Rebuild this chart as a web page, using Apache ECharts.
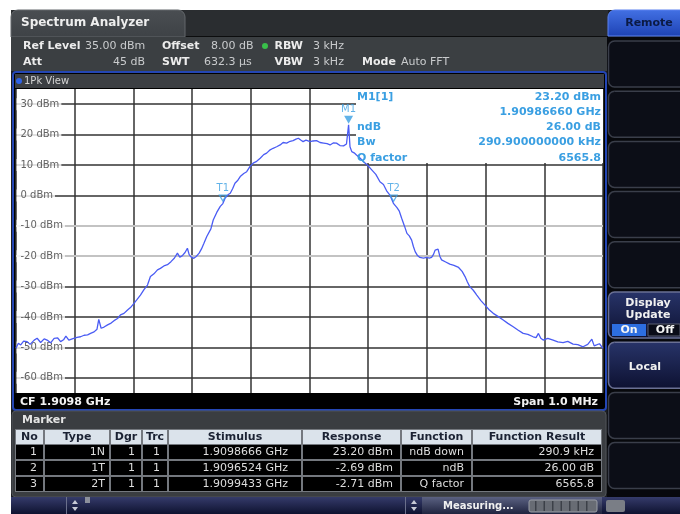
<!DOCTYPE html>
<html>
<head>
<meta charset="utf-8">
<script src="https://cdn.jsdelivr.net/npm/echarts@6/dist/echarts.min.js"></script>
<style>
  html, body { margin: 0; padding: 0; background: #fff; }
  #c { width: 680px; height: 514px; }
</style>
</head>
<body>
<div id="c"></div>
<script>
// Trace 1 (1Pk View): [offset from centre frequency in kHz, level in dBm]
const trace = [
  [-500,-50.3],[-496,-48.6],[-492,-49.2],[-487,-47.9],[-481,-48.1],[-476,-49.0],[-469,-47.6],[-464,-47.0],
  [-458,-48.4],[-452,-47.2],[-447,-47.6],[-441,-48.5],[-435,-47.0],[-429,-46.9],[-424,-48.1],[-419,-47.5],
  [-415,-46.3],[-410,-47.6],[-403,-47.1],[-396,-46.7],[-390,-46.5],[-384,-46.0],[-378,-45.9],[-373,-45.4],
  [-367,-44.9],[-362,-44.0],[-359,-40.8],[-355,-43.7],[-350,-43.3],[-344,-42.6],[-338,-42.0],[-333,-41.2],
  [-327,-40.5],[-322,-39.3],[-316,-38.8],[-310,-37.7],[-305,-36.9],[-299,-35.5],[-294,-34.3],[-288,-32.8],
  [-282,-31.0],[-276,-29.5],[-271,-26.7],[-265,-25.8],[-259,-24.5],[-254,-24.0],[-248,-23.2],[-242,-22.8],
  [-236,-21.8],[-230,-20.6],[-225,-19.0],[-221,-20.3],[-217,-19.9],[-212,-18.8],[-208,-17.4],[-205,-19.5],
  [-202,-20.2],[-197,-20.7],[-193,-20.1],[-188,-19.0],[-184,-17.6],[-180,-15.8],[-175,-13.5],[-168,-11.0],
  [-164,-8.1],[-158,-5.6],[-152,-3.6],[-147.6,-2.69],[-144,-1.0],[-139,0.2],[-135,0.7],[-131,2.2],
  [-127,4.0],[-122,5.0],[-118,6.2],[-112,7.2],[-107,7.8],[-101,9.6],[-96,10.6],[-90,11.2],
  [-84,12.2],[-78,13.4],[-73,13.9],[-67,15.0],[-62,15.5],[-56,16.0],[-50,16.6],[-45,17.4],
  [-39,17.2],[-33,17.8],[-28,18.0],[-23,18.5],[-19,18.8],[-15,18.2],[-11,17.7],[-6,18.2],
  [1,17.7],[6,17.9],[12,18.0],[18,17.4],[24,17.2],[30,17.0],[35,16.6],[41,17.3],
  [46,17.2],[52,16.4],[58,16.3],[63,16.9],[66.6,23.2],[69,16.0],[72,14.4],[76,14.0],
  [80,13.3],[86,12.3],[92,11.1],[99,9.9],[106,8.4],[113,6.9],[120,4.5],[126,3.6],
  [132,1.3],[137,0.1],[143.3,-2.71],[149,-4.0],[153,-5.2],[157,-7.5],[162,-10.2],[166,-12.5],
  [170,-13.3],[174,-14.7],[177,-16.8],[180,-18.5],[184,-19.8],[188,-20.4],[194,-20.6],[200,-20.4],
  [204,-20.6],[208,-20.4],[211,-19.5],[214,-18.0],[219,-17.7],[222,-20.0],[225,-21.2],[232,-21.9],
  [239,-22.6],[246,-23.0],[254,-23.7],[260,-25.0],[265,-26.7],[269,-28.5],[273,-30.0],[279,-31.2],
  [285,-32.8],[292,-34.6],[299,-36.1],[306,-37.6],[313,-38.8],[321,-39.8],[330,-41.0],[338,-42.1],
  [347,-43.2],[355,-44.3],[364,-45.4],[372,-45.7],[381,-46.5],[386,-46.8],[390,-45.4],[394,-47.0],
  [398,-47.6],[406,-47.0],[415,-47.6],[423,-48.2],[432,-48.4],[440,-48.0],[449,-48.9],[457,-49.1],
  [466,-49.8],[474,-49.0],[481,-47.3],[485,-49.5],[489,-49.2],[494,-48.8],[500,-50.3]
];

// Level grid (dBm) and the two lighter display lines
const levelTicks = [30, 20, 10, 0, -10, -20, -30, -40, -50, -60];
const lightLevels = [-10, -20];

// Markers: name, offset from CF (kHz), level (dBm)
const markerNames = ['M1', 'T1', 'T2'];
const markerFreq = [66.6, -147.6, 143.3];
const markerLevel = [23.20, -2.69, -2.71];

// Marker table
const tableHeader = ['No', 'Type', 'Dgr', 'Trc', 'Stimulus', 'Response', 'Function', 'Function Result'];
const colNo = ['1', '2', '3'];
const colType = ['1N', '1T', '2T'];
const colDgr = ['1', '1', '1'];
const colTrc = ['1', '1', '1'];
const colStimulus = ['1.9098666 GHz', '1.9096524 GHz', '1.9099433 GHz'];
const colResponse = ['23.20 dBm', '-2.69 dBm', '-2.71 dBm'];
const colFunction = ['ndB down', 'ndB', 'Q factor'];
const colResult = ['290.9 kHz', '26.00 dB', '6565.8'];

// Marker info readout
const infoLeft = ['M1[1]', '', 'ndB', 'Bw', 'Q factor'];
const infoRight = ['23.20 dBm', '1.90986660 GHz', '26.00 dB', '290.900000000 kHz', '6565.8'];

const F = '"DejaVu Sans", "Liberation Sans", sans-serif';
const els = [];
function grad(c1, c2) {
  return new echarts.graphic.LinearGradient(0, 0, 0, 1, [{ offset: 0, color: c1 }, { offset: 1, color: c2 }]);
}
function rect(x, y, w, h, style, z, r) {
  els.push({ type: 'rect', silent: true, z: z == null ? -10 : z, shape: { x, y, width: w, height: h, r: r || 0 }, style });
}
function text(x, y, s, fill, size, bold, align, z) {
  els.push({
    type: 'text', silent: true, z: z == null ? -7 : z,
    style: {
      text: s, x, y, fill, font: (bold ? 'bold ' : '') + size + 'px ' + F,
      textAlign: align || 'left', textVerticalAlign: 'middle', align: align || 'left', verticalAlign: 'middle'
    }
  });
}
function poly(points, fill, z) {
  els.push({ type: 'polygon', silent: true, z: z == null ? -7 : z, shape: { points }, style: { fill } });
}

// Instrument frame
rect(11, 10, 669, 504, { fill: '#1c1e21' }, -12);
rect(11, 10, 597, 27, { fill: '#2a2d30' }, -11);
rect(11, 36, 597, 1, { fill: '#0c0d0e' }, -11);
rect(11, 10, 174, 27, { fill: grad('#4a4e52', '#3e4246'), stroke: '#63676b', lineWidth: 1 }, -10, [7, 7, 0, 0]);
text(21, 23, 'Spectrum Analyzer', '#eeeeee', 12, true);
rect(11, 37, 597, 34, { fill: '#3b3f42' }, -10);

// Setting readout
const lab = '#ececec', val = '#c9cbcd';
text(23, 46, 'Ref Level', lab, 11, true);
text(85, 46, '35.00 dBm', val, 11);
text(162, 46, 'Offset', lab, 11, true);
text(211, 46, '8.00 dB', val, 11);
els.push({ type: 'circle', silent: true, z: -7, shape: { cx: 265, cy: 46, r: 3 }, style: { fill: '#39c04a' } });
text(303, 46, 'RBW', lab, 11, true, 'right');
text(313, 46, '3 kHz', val, 11);
text(23, 62, 'Att', lab, 11, true);
text(145, 62, '45 dB', val, 11, false, 'right');
text(162, 62, 'SWT', lab, 11, true);
text(204, 62, '632.3 µs', val, 11);
text(303, 62, 'VBW', lab, 11, true, 'right');
text(313, 62, '3 kHz', val, 11);
text(362, 62, 'Mode', lab, 11, true);
text(401, 62, 'Auto FFT', val, 11);

// Diagram window
rect(13, 72, 593, 338, { fill: '#000', stroke: '#2446b4', lineWidth: 2 }, -10, 3);
rect(15, 74, 589, 14, { fill: '#3c3f43' }, -9);
els.push({ type: 'circle', silent: true, z: -7, shape: { cx: 19, cy: 81, r: 3 }, style: { fill: '#2f62e6' } });
text(24, 81, '1Pk View', '#d4d4d4', 10);
rect(16, 89, 587, 304, { fill: '#ffffff' }, -6);
text(20, 402, 'CF 1.9098 GHz', '#f2f2f2', 11, true);
text(598, 402, 'Span 1.0 MHz', '#f2f2f2', 11, true, 'right');

// Marker readout box (drawn over the grid, under the trace)
rect(356, 89, 247, 74, { fill: '#ffffff' }, 4);
const infoColor = '#3a9fe2';
for (let i = 0; i < infoRight.length; i++) {
  const y = 97 + i * 15.2;
  if (infoLeft[i]) text(357, y, infoLeft[i], infoColor, 11, true, 'left', 6);
  text(601, y, infoRight[i], infoColor, 11, true, 'right', 6);
}

// Marker table panel
rect(12, 411, 594, 86, { fill: '#3a3d41', stroke: '#4f5358', lineWidth: 1 }, -10, 4);
text(22, 420, 'Marker', '#e4e4e4', 11, true);
const colEdges = [15, 44, 110, 142, 168, 302, 401, 472, 602];
const colRight = [37, 105, 135, 160, 288, 393, 464, 594];
rect(15, 429, 587, 63, { fill: '#74787e' }, -9);
for (let c = 0; c < 8; c++) {
  const x0 = colEdges[c] + 1, w = colEdges[c + 1] - colEdges[c] - 2;
  rect(x0, 430, w, 14, { fill: '#dbe3eb' }, -8);
  text((colEdges[c] + colEdges[c + 1]) / 2, 437, tableHeader[c], '#1b2233', 11, true, 'center');
  for (let r = 0; r < 3; r++) rect(x0, 445 + r * 16, w, 14, { fill: '#000' }, -8);
}
const cols = [colNo, colType, colDgr, colTrc, colStimulus, colResponse, colFunction, colResult];
for (let r = 0; r < 3; r++) {
  for (let c = 0; c < 8; c++) text(colRight[c], 452 + r * 16, cols[c][r], '#dedede', 11, false, 'right');
}

// Status bar
rect(11, 497, 669, 17, { fill: grad('#353b6a', '#0e1230') }, -10);
rect(422, 497, 180, 17, { fill: grad('#5b6182', '#1f243f') }, -9);
rect(66, 497, 1, 17, { fill: '#6a6f8c' }, -8);
rect(405, 497, 1, 17, { fill: '#6a6f8c' }, -8);
rect(85, 497, 5, 6, { fill: '#8c909c' }, -8);
poly([[72, 504], [78, 504], [75, 500]], '#c8cad6');
poly([[72, 507], [78, 507], [75, 511]], '#c8cad6');
poly([[411, 504], [417, 504], [414, 500]], '#c8cad6');
poly([[411, 507], [417, 507], [414, 511]], '#c8cad6');
text(443, 506, 'Measuring...', '#f0f0f0', 10, true);
rect(529, 500, 68, 12, { fill: '#686c74', stroke: '#9a9ea6', lineWidth: 1 }, -8, 2);
for (let i = 0; i < 7; i++) rect(535 + i * 8.5, 501, 1.5, 10, { fill: '#3c4048' }, -7);
rect(606, 500, 19, 12, { fill: '#7a7e86' }, -8, 2);

// Softkey column
rect(607, 37, 73, 460, { fill: '#07080c' }, -10);
rect(608, 10, 80, 26, { fill: grad('#4371e4', '#1d42b4'), stroke: '#5a80ee', lineWidth: 1 }, -9, [7, 0, 0, 0]);
text(649, 23, 'Remote', '#0b1a44', 11, true, 'center');
for (let i = 0; i < 9; i++) {
  const y = 41 + i * 50.2;
  const active = (i === 5 || i === 6);
  rect(608.5, y, 80, 46, active
    ? { fill: grad('#283469', '#0d1131'), stroke: '#6a7094', lineWidth: 1.5 }
    : { fill: '#0c0e17', stroke: '#3a3e4a', lineWidth: 1.5 }, -9, 6);
}
text(648, 303, 'Display', '#f0f0f0', 11, true, 'center');
text(648, 315, 'Update', '#f0f0f0', 11, true, 'center');
rect(612, 324, 34, 12, { fill: '#2d6ee0' }, -8);
rect(648, 324, 32, 12, { fill: '#0a0c18', stroke: '#5a5e70', lineWidth: 1 }, -8);
text(629, 330, 'On', '#f4f4f4', 11, true, 'center');
text(665, 330, 'Off', '#f4f4f4', 11, true, 'center');
text(645, 367, 'Local', '#f0f0f0', 11, true, 'center');

const chart = echarts.init(document.getElementById('c'), null, { renderer: 'canvas', width: 680, height: 514 });
const markerColor = '#3a9fe2';
chart.setOption({
  animation: false,
  backgroundColor: '#ffffff',
  grid: { left: 16, top: 89, width: 587, height: 304, show: false, containLabel: false, outerBoundsMode: 'none' },
  xAxis: {
    type: 'value', min: -500, max: 500, interval: 100,
    axisLine: { show: false }, axisTick: { show: false }, axisLabel: { show: false },
    splitLine: { show: true, lineStyle: { color: '#333333', width: 1.5 } }
  },
  yAxis: {
    type: 'value', min: -65, max: 35,
    axisLine: { show: false }, axisTick: { show: false }, axisLabel: { show: false },
    splitLine: { show: false }
  },
  graphic: { elements: els },
  series: [
    {
      // horizontal level grid
      type: 'line', data: [], z: 1, silent: true,
      markLine: {
        z: 1, silent: true, symbol: ['none', 'none'], animation: false, label: { show: false },
        data: levelTicks.map(v => ({
          yAxis: v,
          lineStyle: lightLevels.includes(v)
            ? { color: '#c3c3c3', width: 2, type: 'solid' }
            : { color: '#333333', width: 1.5, type: 'solid' }
        }))
      }
    },
    {
      // level labels at the left edge of the diagram
      type: 'scatter', z: 3, silent: true, symbolSize: 1,
      itemStyle: { color: 'rgba(0,0,0,0)' },
      data: levelTicks.map(v => [-500, v]),
      label: {
        show: true, position: 'right', distance: 0,
        formatter: p => p.value[1] + ' dBm',
        color: '#3a3a3a', fontSize: 10, fontFamily: F,
        backgroundColor: '#ffffff', padding: [1, 2, 1, 4]
      }
    },
    {
      type: 'line', z: 5, silent: true, showSymbol: false,
      data: trace,
      lineStyle: { color: '#4a5cf4', width: 1.3 }
    },
    {
      type: 'scatter', z: 7, silent: true,
      data: markerNames.map((n, i) => ({
        name: n,
        value: [markerFreq[i], markerLevel[i]],
        symbol: 'path://M0,0L10,0L5,9Z',
        symbolSize: i === 0 ? [9, 8] : [7, 6],
        symbolOffset: [0, i === 0 ? -5 : -5.5],
        itemStyle: i === 0
          ? { color: markerColor }
          : { color: 'rgba(0,0,0,0)', borderColor: markerColor, borderWidth: 1.2 }
      })),
      label: {
        show: true, position: 'top', distance: 1,
        formatter: p => p.name,
        color: markerColor, fontSize: 10, fontFamily: F
      }
    }
  ]
});
</script>
</body>
</html>
